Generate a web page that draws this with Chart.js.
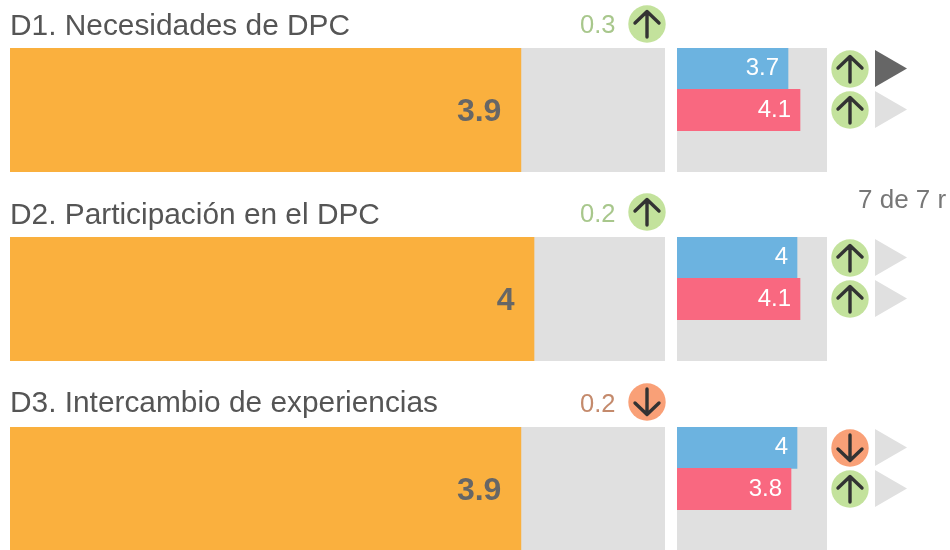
<!DOCTYPE html>
<html><head><meta charset="utf-8">
<script src="https://cdn.jsdelivr.net/npm/chart.js@4"></script>
<style>
html,body{margin:0;padding:0;background:#fff;width:950px;height:550px;overflow:hidden}
#stage{position:relative;width:950px;height:550px;overflow:hidden;font-family:"Liberation Sans",Arial,sans-serif;filter:blur(.55px)}
.c{position:absolute}
.t{position:absolute;white-space:nowrap;line-height:1}
svg{position:absolute;overflow:visible}
</style></head><body><div id="stage"></div>
<script>
const dimensions = ["D1. Necesidades de DPC","D2. Participación en el DPC","D3. Intercambio de experiencias"];
const overallValues = [3.9, 4, 3.9];
const seriesAValues = [3.7, 4, 4];
const seriesBValues = [4.1, 4.1, 3.8];
const deltaValues = ["0.3","0.2","0.2"];
const deltaDirections = ["up","up","down"];
const seriesADirections = ["up","up","down"];
const seriesBDirections = ["up","up","up"];
const seriesAActive = [true,false,false];
const axisMax = 5;
const sideNote = "7 de 7 r";

const rowTops = [48,237,427];
const titleCenter = [25,214,402];
const deltaCenter = [23.5,212,402];
const stage = document.getElementById('stage');
const GREY='#e0e0e0', ORANGE='#fab03e', BLUE='#6cb3e0', RED='#f96880';

const panelBg = {id:'panelBg',beforeDraw(ch){const a=ch.chartArea,c=ch.ctx;c.save();c.fillStyle=GREY;c.fillRect(a.left,a.top,a.right-a.left,a.bottom-a.top);c.restore();}};
const valueLabels = {id:'valueLabels',afterDatasetsDraw(ch,_,o){const c=ch.ctx;c.save();c.font=o.font;c.fillStyle=o.color;c.textAlign='right';c.textBaseline='middle';
  ch.getDatasetMeta(0).data.forEach((el,i)=>{const v=ch.data.datasets[0].data[i];if(v==null)return;c.fillText(String(v),el.x-o.inset,el.y+o.dy);});c.restore();}};

function makeChart(x,y,w,h,labels,values,colors,font,color,inset,dy){
  const cv=document.createElement('canvas');cv.className='c';cv.width=w;cv.height=h;
  cv.style.cssText=`left:${x}px;top:${y}px;width:${w}px;height:${h}px`;stage.appendChild(cv);
  new Chart(cv,{type:'bar',plugins:[panelBg,valueLabels],data:{labels,datasets:[{data:values,backgroundColor:colors,categoryPercentage:1,barPercentage:1,borderWidth:0}]},
   options:{indexAxis:'y',responsive:false,animation:false,layout:{padding:0},
    plugins:{legend:{display:false},tooltip:{enabled:false},valueLabels:{font,color,inset,dy}},
    scales:{x:{display:false,min:0,max:axisMax},y:{display:false}}}});
}
function text(str,x,yc,size,color,align){const d=document.createElement('div');d.className='t';d.textContent=str;
  d.style.cssText=`font-size:${size}px;color:${color};top:${yc-size/2}px;`+(align==='right'?`right:${950-x}px`:`left:${x}px`);stage.appendChild(d);}
function ns(n,a){const e=document.createElementNS('http://www.w3.org/2000/svg',n);for(const k in a)e.setAttribute(k,a[k]);return e;}
function arrow(cx,cy,dir){const s=ns('svg',{width:40,height:40,style:`left:${cx-20}px;top:${cy-20}px`});
  s.appendChild(ns('circle',{cx:20,cy:20,r:18.7,fill:dir==='up'?'#c3e29c':'#f9a077'}));
  const p=dir==='up'?'M20 33V7.5M8 19L20 7.5L32 19':'M20 7V32.5M8 21L20 32.5L32 21';
  s.appendChild(ns('path',{d:p,fill:'none',stroke:'#333','stroke-width':3.4,'stroke-linecap':'round','stroke-linejoin':'round'}));stage.appendChild(s);}
function tri(x,cy,on){const s=ns('svg',{width:33,height:38,style:`left:${x}px;top:${cy-19}px`});
  s.appendChild(ns('path',{d:'M0 0L32 18.5L0 37Z',fill:on?'#666':GREY}));stage.appendChild(s);}

dimensions.forEach((name,i)=>{
  const top=rowTops[i];
  text(name,10,titleCenter[i],29.85,'#555');
  const up=deltaDirections[i]==='up';
  text(deltaValues[i],615.5,deltaCenter[i]+1.5,25.5,up?'#a8c78c':'#c48a6c','right');
  arrow(647,deltaCenter[i],deltaDirections[i]);
  makeChart(10,top,655,124,[name],[overallValues[i]],[ORANGE],'bold 32px "Liberation Sans",Arial,sans-serif','#666',19.5,2);
  makeChart(677,top,150,124,['A','B',''],[seriesAValues[i],seriesBValues[i],null],[BLUE,RED,GREY],'24px "Liberation Sans",Arial,sans-serif','#fff',9,0);
  arrow(850,top+20.7,seriesADirections[i]);
  arrow(850,top+61.5,seriesBDirections[i]);
  tri(875,top+20.7,seriesAActive[i]);
  tri(875,top+61.5,false);
});
text(sideNote,858,199,26,'#777');
</script></body></html>
